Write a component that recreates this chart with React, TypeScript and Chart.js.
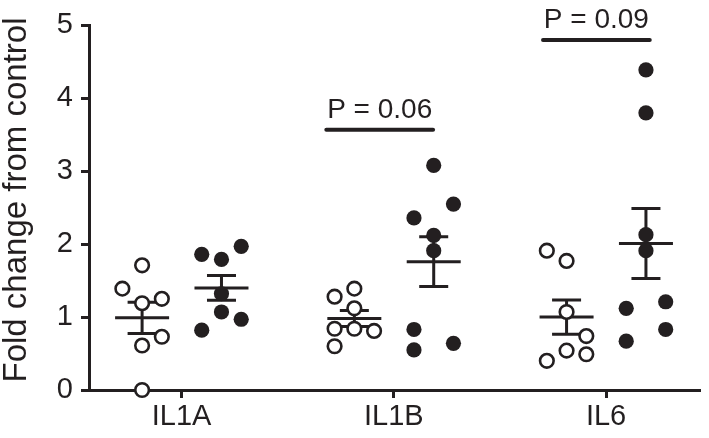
import React, { useEffect, useRef } from "react";
import { Chart, registerables } from "chart.js";

Chart.register(...registerables);

const INK = "#231f20";
const FONT = "'Liberation Sans', Arial, sans-serif";

const categories = ["IL1A", "IL1B", "IL6"];
const yTicks = [0, 1, 2, 3, 4, 5];
const yTitle = "Fold change from control";

const controlValues = [
  [1.71, 1.39, 1.19, 1.25, 0.73, 0.61, 0.0],
  [1.39, 1.28, 1.12, 0.84, 0.84, 0.81, 0.6],
  [1.91, 1.77, 1.07, 0.74, 0.54, 0.49, 0.4],
];
const controlJitter = [
  [0, -1, 0, 1, 1, 0, 0],
  [0, -1, 0, -1, 0, 1, -1],
  [-1, 0, 0, 1, 0, 1, -1],
];
const treatedValues = [
  [1.86, 1.79, 1.97, 1.32, 1.07, 0.97, 0.82],
  [3.08, 2.55, 2.36, 2.12, 1.91, 0.83, 0.64, 0.55],
  [4.39, 3.8, 2.13, 1.91, 1.21, 1.12, 0.83, 0.67],
];
const treatedJitter = [
  [-1, 0, 1, 0, 0, 1, -1],
  [0, 1, -1, 0, 0, -1, 1, -1],
  [0, 0, 0, 0, 1, -1, 1, -1],
];

const controlMean = [0.99, 0.98, 1.0];
const controlSem = [0.215, 0.11, 0.235];
const treatedMean = [1.4, 1.76, 2.01];
const treatedSem = [0.17, 0.34, 0.48];

const sigTexts = ["P = 0.06", "P = 0.09"];
const sigStart = [1.682, 2.703];
const sigEnd = [2.185, 3.206];
const sigHeight = [3.57, 4.8];

const CONTROL_OFFSET = -0.186;
const TREATED_OFFSET = 0.188;
const JITTER_STEP = 0.093;

function buildPoints(values: number[][], jitter: number[][], offset: number) {
  const pts: { x: number; y: number }[] = [];
  values.forEach((arr, ci) => {
    arr.forEach((v, i) => {
      pts.push({ x: ci + 1 + offset + jitter[ci][i] * JITTER_STEP, y: v });
    });
  });
  return pts;
}

const overlayPlugin = {
  id: "overlay",
  beforeDatasetsDraw(chart: any) {
    const { ctx, scales } = chart;
    const x = scales.x;
    const y = scales.y;
    ctx.save();
    ctx.strokeStyle = INK;
    ctx.lineWidth = 3;
    ctx.lineCap = "butt";
    const draw = (cx: number, mean: number, sem: number) => {
      const px = x.getPixelForValue(cx);
      const pm = y.getPixelForValue(mean);
      const pt = y.getPixelForValue(mean + sem);
      const pb = y.getPixelForValue(mean - sem);
      ctx.beginPath();
      ctx.moveTo(px - 27, pm);
      ctx.lineTo(px + 27, pm);
      ctx.moveTo(px, pt);
      ctx.lineTo(px, pb);
      ctx.moveTo(px - 14.5, pt);
      ctx.lineTo(px + 14.5, pt);
      ctx.moveTo(px - 14.5, pb);
      ctx.lineTo(px + 14.5, pb);
      ctx.stroke();
    };
    categories.forEach((_, ci) => {
      draw(ci + 1 + CONTROL_OFFSET, controlMean[ci], controlSem[ci]);
      draw(ci + 1 + TREATED_OFFSET, treatedMean[ci], treatedSem[ci]);
    });
    ctx.restore();
  },
  afterDatasetsDraw(chart: any) {
    const { ctx, scales } = chart;
    const x = scales.x;
    const y = scales.y;
    ctx.save();
    ctx.strokeStyle = INK;
    ctx.fillStyle = INK;
    ctx.lineWidth = 4;
    ctx.lineCap = "round";
    ctx.font = `28px ${FONT}`;
    ctx.textAlign = "center";
    ctx.textBaseline = "alphabetic";
    sigTexts.forEach((t, i) => {
      const x0 = x.getPixelForValue(sigStart[i]);
      const x1 = x.getPixelForValue(sigEnd[i]);
      const py = y.getPixelForValue(sigHeight[i]);
      ctx.beginPath();
      ctx.moveTo(x0, py);
      ctx.lineTo(x1, py);
      ctx.stroke();
      ctx.fillText(t, (x0 + x1) / 2, py - 12);
    });
    ctx.restore();

    // y-axis title
    ctx.save();
    ctx.fillStyle = INK;
    ctx.font = `33px ${FONT}`;
    ctx.textAlign = "center";
    ctx.textBaseline = "alphabetic";
    ctx.translate(26, 200);
    ctx.rotate(-Math.PI / 2);
    ctx.fillText(yTitle, 0, 0);
    ctx.restore();
  },
};

export default function App() {
  const ref = useRef<HTMLCanvasElement | null>(null);
  useEffect(() => {
    if (!ref.current) return;
    const chart = new Chart(ref.current, {
      type: "scatter",
      data: {
        datasets: [
          {
            label: "Control",
            data: buildPoints(controlValues, controlJitter, CONTROL_OFFSET),
            pointRadius: 6.8,
            pointBorderWidth: 2.6,
            pointBackgroundColor: "#ffffff",
            pointBorderColor: INK,
            clip: false as any,
          },
          {
            label: "Treated",
            data: buildPoints(treatedValues, treatedJitter, TREATED_OFFSET),
            pointRadius: 7.6,
            pointBorderWidth: 0,
            pointBackgroundColor: INK,
            pointBorderColor: INK,
            clip: false as any,
          },
        ],
      },
      options: {
        responsive: false,
        animation: false,
        devicePixelRatio: 1,
        layout: { padding: { top: 19, right: 0, left: 0, bottom: 0 } },
        plugins: {
          legend: { display: false },
          tooltip: { enabled: false },
        },
        scales: {
          x: {
            type: "linear",
            min: 0.5638,
            max: 3.4408,
            afterBuildTicks: (scale: any) => {
              scale.ticks = categories.map((_, i) => ({ value: i + 1 }));
            },
            afterFit: (scale: any) => {
              scale.height = 48;
            },
            ticks: {
              autoSkip: false,
              maxRotation: 0,
              padding: 2,
              color: INK,
              font: { size: 29, family: FONT },
              callback: (v: any) => categories[Math.round(Number(v)) - 1] ?? "",
            },
            grid: {
              drawOnChartArea: false,
              drawTicks: true,
              tickLength: 8,
              lineWidth: 3,
              color: INK,
            },
            border: { display: true, width: 3, color: INK },
          },
          y: {
            type: "linear",
            min: 0,
            max: 5,
            afterBuildTicks: (scale: any) => {
              scale.ticks = yTicks.map((v) => ({ value: v }));
            },
            afterFit: (scale: any) => {
              scale.width = 89;
            },
            ticks: {
              padding: 8,
              color: INK,
              font: { size: 29, family: FONT },
            },
            grid: {
              drawOnChartArea: false,
              drawTicks: true,
              tickLength: 8,
              lineWidth: 3,
              color: INK,
            },
            border: { display: true, width: 3, color: INK },
          },
        },
      },
      plugins: [overlayPlugin],
    });
    return () => chart.destroy();
  }, []);
  return (
    <div style={{ position: "absolute", left: 0, top: 0, width: 709, height: 438, background: "#fff" }}>
      <canvas ref={ref} width={709} height={438} style={{ display: "block", width: 709, height: 438 }} />
    </div>
  );
}
